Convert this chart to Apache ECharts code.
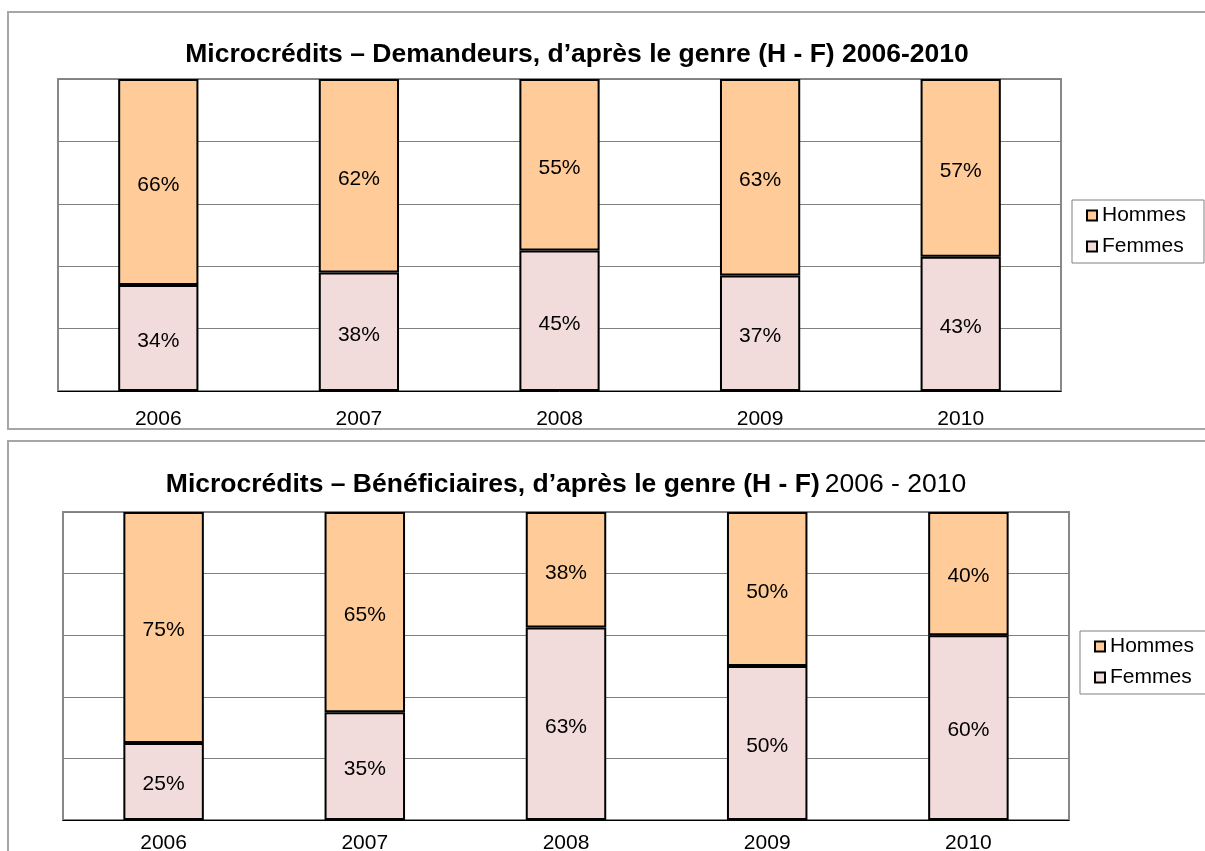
<!DOCTYPE html>
<html>
<head>
<meta charset="utf-8">
<script src="https://cdn.jsdelivr.net/npm/echarts@6/dist/echarts.min.js"></script>
<style>
html, body { margin: 0; padding: 0; background: #fff; }
#chart { width: 1205px; height: 851px; }
</style>
</head>
<body>
<div id="chart"></div>
<script>
// années
var years = ['2006', '2007', '2008', '2009', '2010'];
// demandeurs (%)
var demHommes = [66, 62, 55, 63, 57];
var demFemmes = [34, 38, 45, 37, 43];
// bénéficiaires (%)
var benHommes = [75, 65, 37.5, 50, 40];
var benFemmes = [25, 35, 62.5, 50, 60];

var FONT = '"Liberation Sans", Arial, sans-serif';
var COL_H = '#FFCC99';
var COL_F = '#F2DCDB';

var chart = echarts.init(document.getElementById('chart'));

function pct(p) { return Math.round(p.value) + '%'; }

function barSeries(name, data, color, idx) {
  return {
    name: name,
    type: 'bar',
    stack: 's' + idx,
    xAxisIndex: idx,
    yAxisIndex: idx,
    barWidth: '40%',
    data: data,
    itemStyle: { color: color, borderColor: '#000', borderWidth: 2 },
    label: {
      show: true,
      position: 'inside',
      color: '#000',
      fontFamily: FONT,
      fontSize: 21,
      offset: [0, 3],
      formatter: pct
    }
  };
}

function legend(left, top) {
  return {
    data: ['Hommes', 'Femmes'],
    orient: 'vertical',
    left: left,
    top: top,
    icon: 'rect',
    itemWidth: 10,
    itemHeight: 10,
    itemGap: 10,
    padding: [5, 18, 6, 14],
    borderColor: '#808080',
    borderWidth: 1,
    textStyle: { fontFamily: FONT, fontSize: 21, color: '#000', lineHeight: 21 },
    selectedMode: false
  };
}

var option = {
  animation: false,
  backgroundColor: '#fff',
  graphic: [
    { type: 'rect', shape: { x: 8, y: 12, width: 1300, height: 417 },
      style: { fill: null, stroke: '#a6a6a6', lineWidth: 2 }, z: -1 },
    { type: 'rect', shape: { x: 8, y: 441, width: 1300, height: 500 },
      style: { fill: null, stroke: '#a6a6a6', lineWidth: 2 }, z: -1 }
  ],
  title: [{
    text: 'Microcrédits – Demandeurs, d’après le genre (H - F) 2006-2010',
    left: 572,
    textAlign: 'center',
    top: 36,
    textStyle: { fontFamily: FONT, fontSize: 26.5, fontWeight: 'bold', color: '#000' }
  }, {
    text: '{b|Microcrédits – Bénéficiaires, d’après le genre (H - F)} {n|2006 - 2010}',
    left: 561,
    textAlign: 'center',
    top: 466,
    textStyle: {
      fontWeight: 'normal',
      rich: {
        b: { fontFamily: FONT, fontSize: 26.5, fontWeight: 'bold', color: '#000' },
        n: { fontFamily: FONT, fontSize: 26.5, fontWeight: 'normal', color: '#000' }
      }
    }
  }],
  legend: [legend(1072, 200), legend(1080, 631)],
  grid: [
    { left: 58, top: 79, right: 144, bottom: 460, show: true, borderColor: '#888', borderWidth: 2, outerBoundsMode: 'none' },
    { left: 63, top: 512, right: 136, bottom: 31, show: true, borderColor: '#888', borderWidth: 2, outerBoundsMode: 'none' }
  ],
  xAxis: [0, 1].map(function (i) {
    return {
      type: 'category',
      gridIndex: i,
      data: years,
      axisLine: { lineStyle: { color: '#000', width: 1 } },
      axisTick: { length: 6, lineStyle: { color: '#000' } },
      axisLabel: { fontFamily: FONT, fontSize: 21, color: '#000', margin: i === 0 ? 18 : 13 }
    };
  }),
  yAxis: [0, 1].map(function (i) {
    return {
      type: 'value',
      gridIndex: i,
      min: 0,
      max: 100,
      interval: 20,
      axisLabel: { show: false },
      axisLine: { show: false },
      axisTick: { show: false },
      splitLine: { lineStyle: { color: '#808080', width: 1 } }
    };
  }),
  series: [
    barSeries('Femmes', demFemmes, COL_F, 0),
    barSeries('Hommes', demHommes, COL_H, 0),
    barSeries('Femmes', benFemmes, COL_F, 1),
    barSeries('Hommes', benHommes, COL_H, 1)
  ]
};

chart.setOption(option);
</script>
</body>
</html>
